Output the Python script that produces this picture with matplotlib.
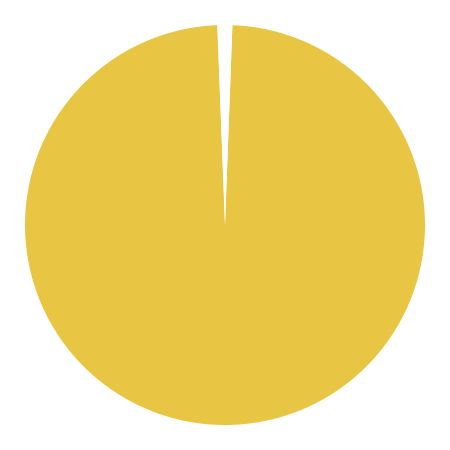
import matplotlib.pyplot as plt

# data
labels = ['Yes', 'No']
values = [98.8, 1.2]
colors = ['#E8C643', '#FFFFFF']

fig = plt.figure(figsize=(4.5, 4.5), dpi=100)
ax = fig.add_axes([0, 0, 1, 1])
ax.pie(values, colors=colors, startangle=92.2, radius=1.0,
       wedgeprops=dict(linewidth=0))
ax.set_xlim(-1.125, 1.125)
ax.set_ylim(-1.125, 1.125)
ax.set_aspect('equal')
ax.axis('off')

fig.savefig('out.png', dpi=100, facecolor='white')
